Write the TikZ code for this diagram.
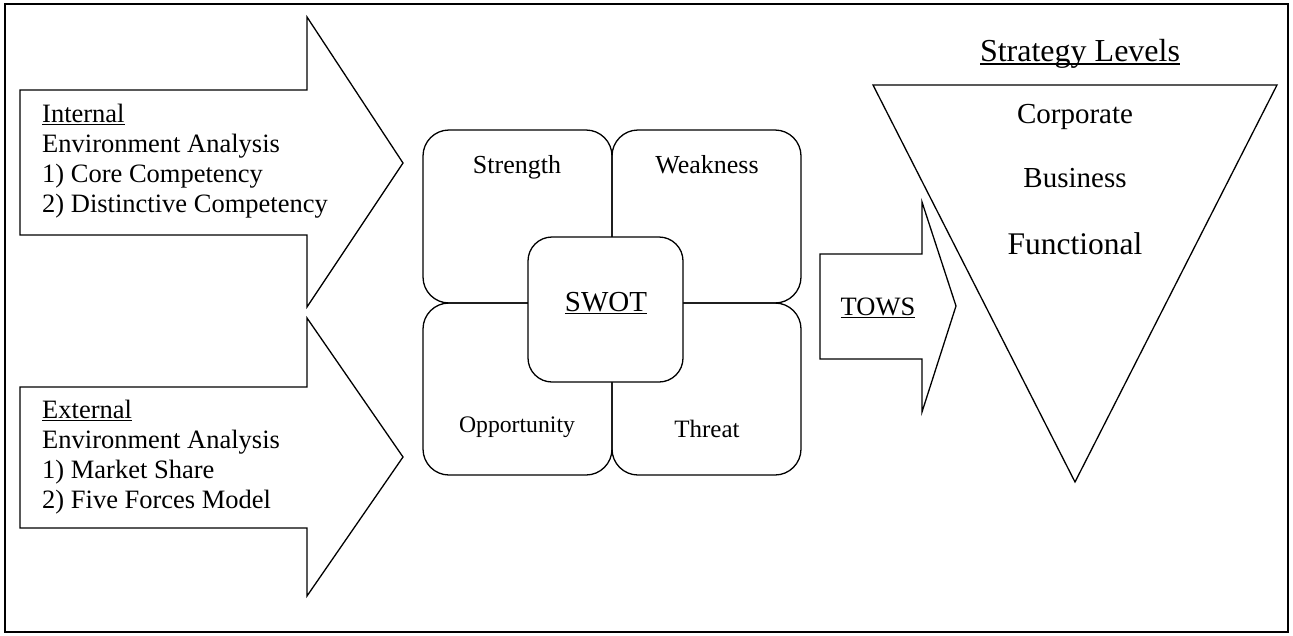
\documentclass[tikz,border=0pt]{standalone}
\usepackage{fontspec}
\setmainfont{Liberation Serif}
\newcommand\myul[1]{\setbox0\hbox{#1}\rlap{\rule[-0.12em]{\wd0}{0.055em}}\box0}
\newcommand\fs[1]{\fontsize{#1}{30}\selectfont}
\begin{document}
\begin{tikzpicture}[x=1pt,y=-1pt,
  shp/.style={draw, line width=1.3pt, line join=miter, fill=white},
  quad/.style={draw, line width=1.3pt, rounded corners=26pt, rectangle, inner sep=0pt},
  lbl/.style={anchor=base, inner sep=0pt},
  blk/.style={anchor=base west, inner sep=0pt, font=\fs{26.5}}]
\useasboundingbox (0,0) rectangle (1293,635);
\draw[line width=2pt] (5,4) rectangle (1288,632);
% left arrows
\draw[shp] (20,90) -- (307,90) -- (307,17) -- (403,163) -- (307,307) -- (307,235) -- (20,235) -- cycle;
\draw[shp] (20,387) -- (307,387) -- (307,318) -- (403,457) -- (307,596) -- (307,528) -- (20,528) -- cycle;
\node[blk] (i1) at (42,122) {\myul{Internal}};
\node[blk] (i2) at (42,152) {Environment Analysis};
\node[blk] (i3) at (42,182) {1) Core Competency};
\node[blk] (i4) at (42,212) {2) Distinctive Competency};
\node[blk] (e1) at (42,418) {\myul{External}};
\node[blk] (e2) at (42,448) {Environment Analysis};
\node[blk] (e3) at (42,478) {1) Market Share};
\node[blk] (e4) at (42,508) {2) Five Forces Model};
% SWOT quadrants
\node[quad, minimum width=189pt, minimum height=173pt] (S) at (517.5,216.5) {};
\node[quad, minimum width=189pt, minimum height=173pt] (W) at (706.5,216.5) {};
\node[quad, minimum width=189pt, minimum height=172pt] (O) at (517.5,389) {};
\node[quad, minimum width=189pt, minimum height=172pt] (T) at (706.5,389) {};
\node[quad, fill=white, rounded corners=24pt, minimum width=155pt, minimum height=145pt] (C) at (605.5,309.5) {};
\node[lbl, font=\fs{26}] (st) at (517,173) {Strength};
\node[lbl, font=\fs{26}] (wt) at (707,173) {Weakness};
\node[lbl, font=\fs{23.7}] (ot) at (517,432) {Opportunity};
\node[lbl, font=\fs{25}] (tt) at (707,437) {Threat};
\node[lbl, font=\fs{29}] (ct) at (606,311) {\myul{SWOT}};
% TOWS arrow
\draw[shp] (820,254) -- (922,254) -- (922,202) -- (956,306) -- (922,412) -- (922,359) -- (820,359) -- cycle;
\node[lbl, font=\fs{26.5}] (tows) at (878,315) {\myul{TOWS}};
% triangle
\draw[shp] (873,85) -- (1277,85) -- (1075,482) -- cycle;
\node[lbl, font=\fs{32}] (sl) at (1080,61) {\myul{Strategy Levels}};
\node[lbl, font=\fs{29}] (cor) at (1075,123) {Corporate};
\node[lbl, font=\fs{29}] (bus) at (1075,187) {Business};
\node[lbl, font=\fs{31.5}] (fun) at (1075,254) {Functional};
\end{tikzpicture}
\end{document}
